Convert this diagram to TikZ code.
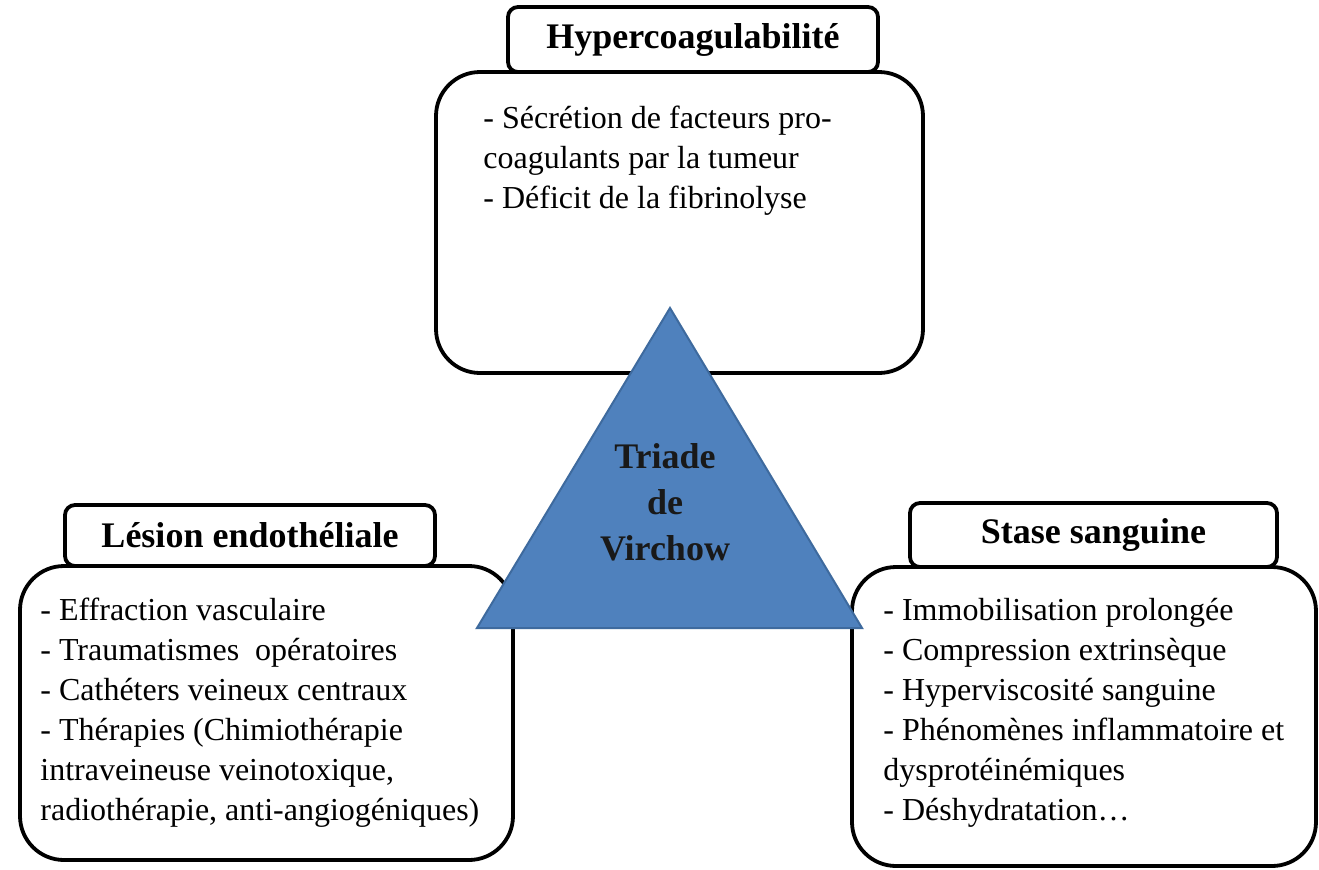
\documentclass[tikz,border=0pt]{standalone}
\usepackage{fontspec}
\setmainfont{Liberation Serif}
\usepackage{array}
\begin{document}
\begin{tikzpicture}[x=0.5pt,y=-0.5pt,
  frame/.style={draw=black,line width=1.9pt,fill=white},
  titlebox/.style={frame,rounded corners=5pt,inner sep=0pt,
    font=\fontsize{18}{22}\selectfont\bfseries},
  mainbox/.style={frame,rounded corners=22pt,inner sep=0pt},
  bodytext/.style={anchor=base west,inner sep=0pt,
    font=\fontsize{16}{20}\selectfont},
  tri/.style={fill=triblue,draw=triedge,line width=1pt,line join=miter}
]
\definecolor{triblue}{HTML}{4F81BD}
\definecolor{triedge}{HTML}{3E6A9E}
\useasboundingbox (0,0) rectangle (1319,869);
\fill[white] (0,0) rectangle (1319,869);

% header tabs (drawn first so the content boxes overlap their lower edge)
\node[titlebox,minimum width=185pt,minimum height=32.5pt] (thyper) at (693,39.5) {Hypercoagulabilité};
\node[titlebox,minimum width=185pt,minimum height=30.5pt] (tlesion) at (250,535.5) {Lésion endothéliale};
\node[titlebox,minimum width=183.5pt,minimum height=32pt] (tstase) at (1093.5,535) {Stase sanguine};

% content boxes
\node[mainbox,minimum width=243.5pt,minimum height=150.5pt] (bhyper) at (679.5,222.5) {};
\node[mainbox,minimum width=246.5pt,minimum height=147pt] (blesion) at (266.5,713) {};
\node[mainbox,minimum width=232pt,minimum height=149.5pt] (bstase) at (1084,716.5) {};

% central triangle
\coordinate (apex) at (670,308);
\coordinate (bl) at (477,628);
\coordinate (br) at (862,628);
\draw[tri] (apex) -- (bl) -- (br) -- cycle;
\node[anchor=base,inner sep=0pt,font=\fontsize{18}{23}\selectfont\bfseries,text=black!90] (triade) at (665,468)
  {\begin{tabular}[t]{@{}c@{}}Triade\\de\\Virchow\end{tabular}};

% box contents
\node[bodytext] (lhyper) at (483,128)
  {\begin{tabular}[t]{@{}l@{}}- Sécrétion de facteurs pro-\\coagulants par la tumeur\\- Déficit de la fibrinolyse\end{tabular}};
\node[bodytext] (llesion) at (40,620)
  {\begin{tabular}[t]{@{}l@{}}- Effraction vasculaire\\- Traumatismes\ \ opératoires\\- Cathéters veineux centraux\\- Thérapies (Chimiothérapie\\intraveineuse veinotoxique,\\radiothérapie, anti-angiogéniques)\end{tabular}};
\node[bodytext] (lstase) at (883,620)
  {\begin{tabular}[t]{@{}l@{}}- Immobilisation prolongée\\- Compression extrinsèque\\- Hyperviscosité sanguine\\- Phénomènes inflammatoire et\\dysprotéinémiques\\- Déshydratation…\end{tabular}};
\end{tikzpicture}
\end{document}
